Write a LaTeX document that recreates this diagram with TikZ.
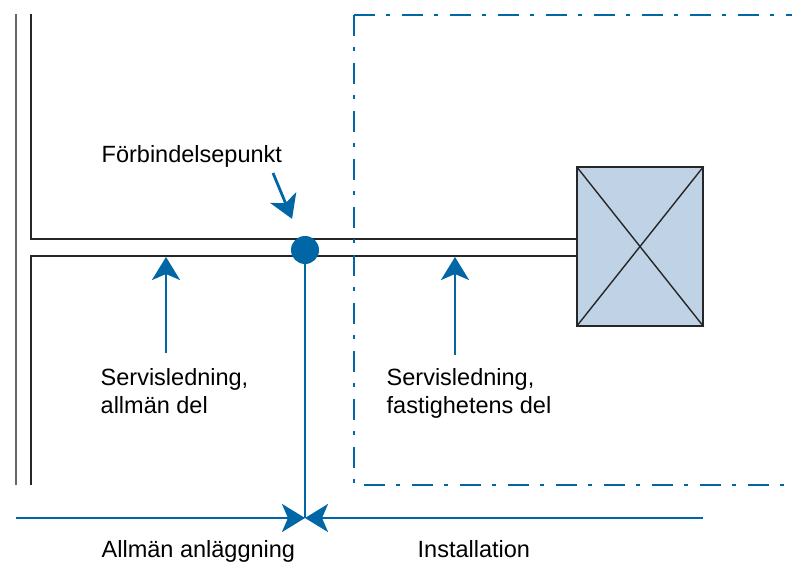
\documentclass[tikz,border=0pt]{standalone}
\usepackage{fontspec}
\setmainfont{Liberation Sans}
\usetikzlibrary{arrows.meta,positioning}

\definecolor{pipeblue}{HTML}{0066A6}
\definecolor{boxfill}{HTML}{C0D2E6}

\begin{document}
\begin{tikzpicture}[
        x=1pt, y=-1pt,
        every path/.style={line width=1.4pt},
        label/.style={anchor=base west, inner sep=0pt, align=left, font=\fontsize{23.5}{28}\selectfont},
        blueline/.style={draw=pipeblue, line width=2.8pt},
        bluearrow/.style={blueline, -{Stealth[length=23pt, width=28pt, inset=6pt]}},
        boundary/.style={draw=pipeblue, line width=2.8pt, dash pattern=on 21pt off 11pt on 4pt off 12pt}
    ]
    \useasboundingbox (0,0) rectangle (792,567);

    % Street and boundary
    \draw[gray!80!black] (16,14) -- (16,485);
    \draw[black!85] (31,14) -- (31,239) -- (577,239);
    \draw[black!85] (31,485) -- (31,256) -- (577,256);
    \draw[boundary] (354,15) -- (792,15);
    \draw[boundary] (354,15) -- (354,485) -- (792,485);

    % Nodes
    \node (house) [draw=black!85, fill=boxfill, minimum width=126pt, minimum height=159pt, inner sep=0pt] at (640,246.5) {};
    \draw[black!85] (house.north west) -- (house.south east);
    \draw[black!85] (house.south west) -- (house.north east);

    \node (point) [circle, fill=pipeblue, minimum size=28pt, inner sep=0pt] at (305,250) {};
    \node (pointlbl) [label] at (101,162) {Förbindelsepunkt};
    \node (pubpipe) [label] at (100,413) {Servisledning,\\allmän del};
    \node (privpipe) [label] at (386,413) {Servisledning,\\fastighetens del};
    \node (public) [label] at (101,557) {Allmän anläggning};
    \node (install) [label] at (417,557) {Installation};

    \coordinate (border) at (305,518);
    \coordinate (publeft) at (16,518);
    \coordinate (privright) at (703,518);

    % Edges
    \draw[blueline] (point.center) -- (border);
    \draw[bluearrow] (publeft) -- (border);
    \draw[bluearrow] (privright) -- (border);
    \draw[bluearrow, shorten >=19pt] (273,173) -- (point);
    \draw[bluearrow] (166,353) -- (166,257);
    \draw[bluearrow] (455,355) -- (455,257);

\end{tikzpicture}
\end{document}
